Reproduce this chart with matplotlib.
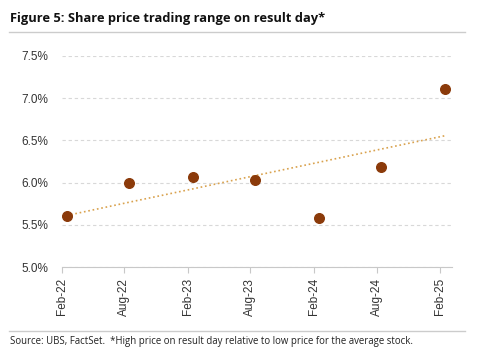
import numpy as np
import pandas as pd
import matplotlib
matplotlib.use('Agg')
import matplotlib.pyplot as plt
import matplotlib.dates as mdates
from matplotlib.lines import Line2D

plt.rcParams['font.family'] = ['Open Sans', 'DejaVu Sans']

# data
dates = pd.to_datetime(['2022-02-15', '2022-08-15', '2023-02-15', '2023-08-15',
                        '2024-02-15', '2024-08-15', '2025-02-15'])
values = [5.61, 5.99, 6.07, 6.03, 5.58, 6.19, 7.11]
tick_dates = pd.to_datetime(['2022-02-01', '2022-08-01', '2023-02-01', '2023-08-01',
                             '2024-02-01', '2024-08-01', '2025-02-01'])
tick_labels = ['Feb-22', 'Aug-22', 'Feb-23', 'Aug-23', 'Feb-24', 'Aug-24', 'Feb-25']
yticks = [5.0, 5.5, 6.0, 6.5, 7.0, 7.5]

fig = plt.figure(figsize=(4.83, 3.5), dpi=100)
ax = fig.add_axes([0.128, 0.237, 0.808, 0.603])

# linear trend line
k, b = np.polyfit(np.arange(len(values)), values, 1)
trend = k * np.arange(len(values)) + b
ax.plot(dates, trend, linestyle=':', color='#D9A24E', lw=1.2, zorder=2)
ax.scatter(dates, values, s=48, color='#8B3A0A', zorder=3)

tick_font = {'family': ['Liberation Sans', 'DejaVu Sans'], 'size': 8.5}
ax.set_ylim(5.0, 7.5)
ax.set_yticks(yticks)
ax.set_yticklabels(['%.1f%%' % v for v in yticks], color='#333333', fontdict=tick_font)
ax.set_xlim(mdates.date2num(pd.Timestamp('2022-02-01')),
            mdates.date2num(pd.Timestamp('2025-03-08')))
ax.set_xticks(tick_dates)
ax.set_xticklabels(tick_labels, rotation=90, color='#333333', fontdict=tick_font)

ax.grid(axis='y', linestyle=(0, (3, 2.5)), color='#D8D8D8', lw=0.8)
ax.set_axisbelow(True)
for s in ['top', 'right', 'left']:
    ax.spines[s].set_visible(False)
ax.spines['bottom'].set_color('#C8C8C8')
ax.tick_params(axis='y', length=0, pad=10)
ax.tick_params(axis='x', length=4, color='#C8C8C8', pad=4)

fig.text(0.02, 0.948, 'Figure 5: Share price trading range on result day*',
         fontsize=9.3, fontweight='bold', color='#111111', va='center')
fig.add_artist(Line2D([0.018, 0.963], [0.909, 0.909], color='#CCCCCC', lw=1))
fig.add_artist(Line2D([0.018, 0.963], [0.054, 0.054], color='#CCCCCC', lw=1))
fig.text(0.02, 0.023, 'Source: UBS, FactSet.  *High price on result day relative to low price for the average stock.',
         fontsize=6.9, color='#222222', va='center')

fig.savefig('out.png', dpi=100)
